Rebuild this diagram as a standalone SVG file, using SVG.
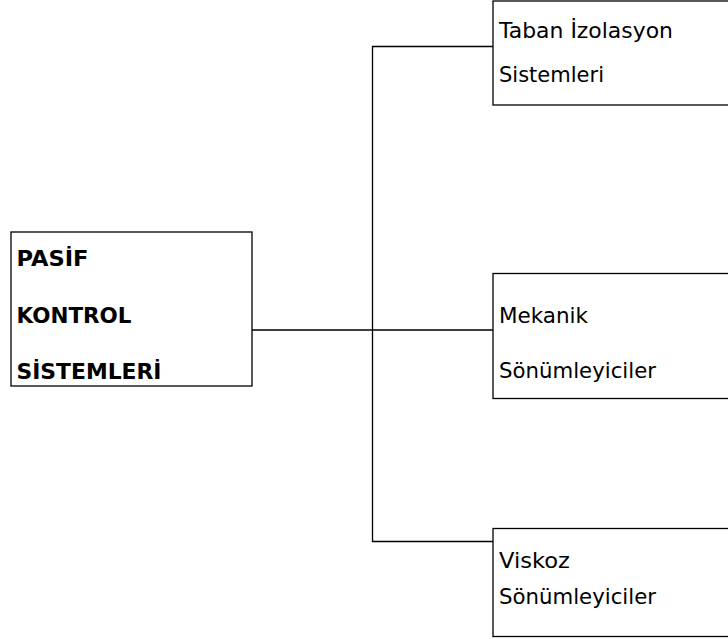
<svg xmlns="http://www.w3.org/2000/svg" width="728" height="639" viewBox="0 0 728 639">
  <style>
    .box { fill: #ffffff; stroke: #000000; stroke-width: 1.3; }
    .wire { fill: none; stroke: #000000; stroke-width: 1.3; }
    .lbl { font-family: "DejaVu Sans", sans-serif; font-size: 20.5px; fill: #000000; }
    .main { font-family: "DejaVu Sans", sans-serif; font-size: 20.5px; font-weight: bold; fill: #000000; }
  </style>
  <rect width="728" height="639" fill="#ffffff"/>

  <!-- connectors -->
  <g id="connectors">
    <line class="wire" x1="252" y1="330" x2="493" y2="330"/>
    <polyline class="wire" points="493,46.5 372.5,46.5 372.5,541.5 493,541.5"/>
  </g>

  <!-- root node -->
  <g id="pasif-kontrol">
    <rect class="box" x="11" y="232" width="241" height="154"/>
    <text class="main" x="16.5" y="266" textLength="72" lengthAdjust="spacingAndGlyphs">PASİF</text>
    <text class="main" x="16.5" y="322.5" textLength="115" lengthAdjust="spacingAndGlyphs">KONTROL</text>
    <text class="main" x="16.5" y="379" textLength="145" lengthAdjust="spacingAndGlyphs">SİSTEMLERİ</text>
  </g>

  <g id="taban-izolasyon">
    <rect class="box" x="493" y="1" width="245" height="104"/>
    <text class="lbl" x="499" y="37.5" textLength="174" lengthAdjust="spacingAndGlyphs">Taban İzolasyon</text>
    <text class="lbl" x="499" y="81.5" textLength="105" lengthAdjust="spacingAndGlyphs">Sistemleri</text>
  </g>

  <g id="mekanik">
    <rect class="box" x="493" y="273.5" width="245" height="125"/>
    <text class="lbl" x="499" y="323" textLength="89" lengthAdjust="spacingAndGlyphs">Mekanik</text>
    <text class="lbl" x="499" y="378" textLength="157" lengthAdjust="spacingAndGlyphs">Sönümleyiciler</text>
  </g>

  <g id="viskoz">
    <rect class="box" x="493" y="528.5" width="245" height="108"/>
    <text class="lbl" x="499" y="568" textLength="71" lengthAdjust="spacingAndGlyphs">Viskoz</text>
    <text class="lbl" x="499" y="604" textLength="157" lengthAdjust="spacingAndGlyphs">Sönümleyiciler</text>
  </g>
</svg>
